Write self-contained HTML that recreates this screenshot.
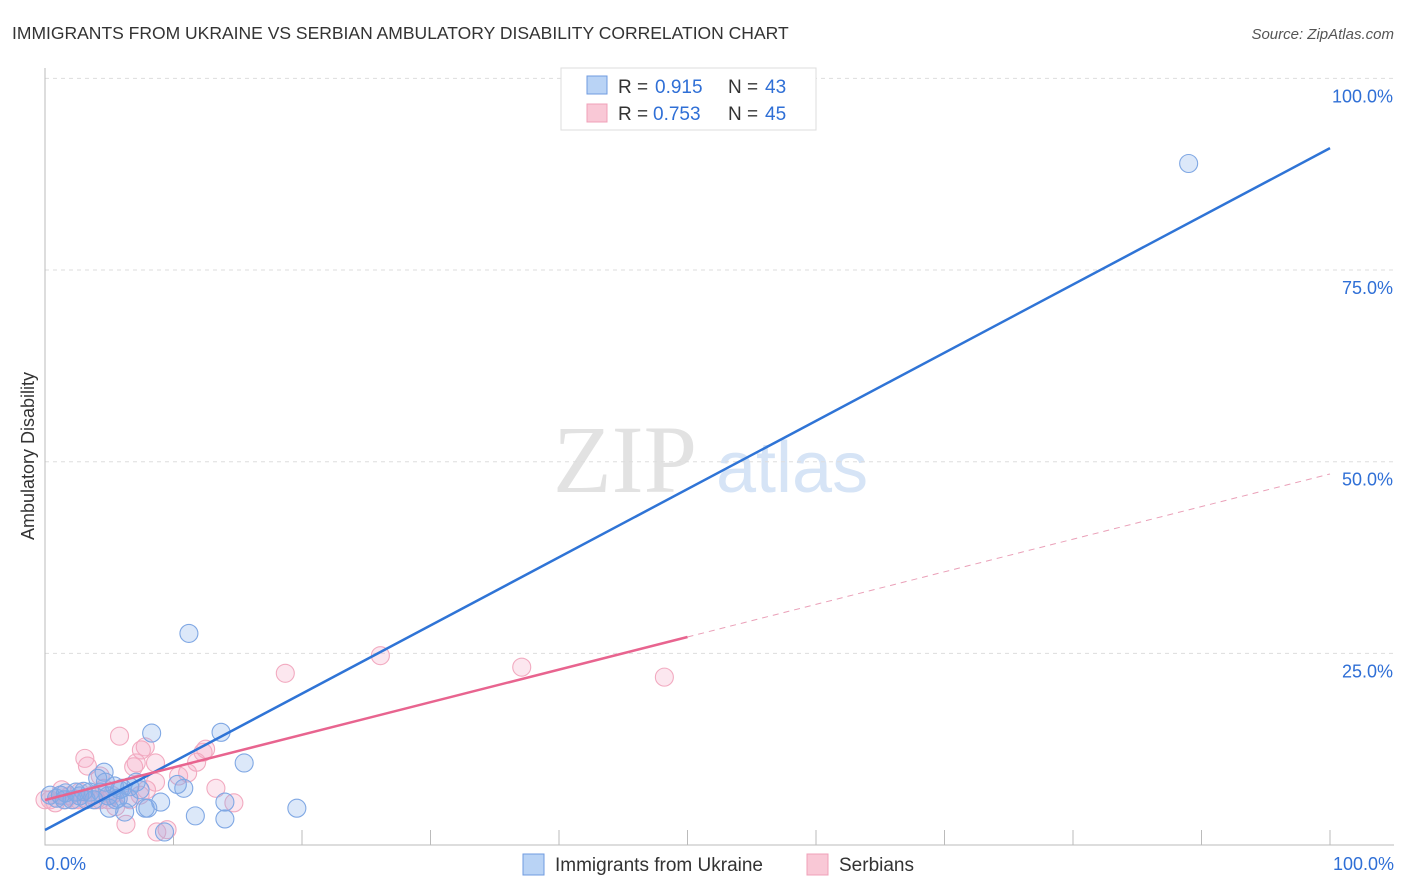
<!DOCTYPE html>
<html><head><meta charset="utf-8"><style>
body{margin:0;background:#fff;font-family:"Liberation Sans",sans-serif}
svg{display:block}
</style></head><body>
<svg id="c" width="1406" height="892">
<text x="12" y="39" font-size="17.5" fill="#333">IMMIGRANTS FROM UKRAINE VS SERBIAN AMBULATORY DISABILITY CORRELATION CHART</text>
<text x="1394" y="39" font-size="15" fill="#555" font-style="italic" text-anchor="end">Source: ZipAtlas.com</text>
<text x="553" y="492" font-size="96" fill="#e2e2e2" font-family="Liberation Serif">ZIP</text>
<text x="716" y="492" font-size="72" fill="#d6e4f6">atlas</text>
<text x="34" y="456" font-size="18" fill="#333" text-anchor="middle" transform="rotate(-90 34 456)">Ambulatory Disability</text>
<g id="grid"></g><g id="pts"></g><g id="lines"></g>
<g>
<rect x="561" y="68" width="255" height="62" fill="#fff" stroke="#ddd"/>
<rect x="587" y="76" width="20" height="18" fill="#b9d3f5" stroke="#6f9be0"/>
<text x="618" y="93" font-size="19" fill="#333">R =</text>
<text x="655" y="93" font-size="19" fill="#2f6fd6">0.915</text>
<text x="728" y="93" font-size="19" fill="#333">N =</text>
<text x="765" y="93" font-size="19" fill="#2f6fd6">43</text>
<rect x="587" y="104" width="20" height="18" fill="#f9c8d6" stroke="#f0a0b8"/>
<text x="618" y="120" font-size="19" fill="#333">R =</text>
<text x="653" y="120" font-size="19" fill="#2f6fd6">0.753</text>
<text x="728" y="120" font-size="19" fill="#333">N =</text>
<text x="765" y="120" font-size="19" fill="#2f6fd6">45</text>
</g>
<g>
<rect x="523" y="854" width="21" height="21" fill="#b9d3f5" stroke="#6f9be0"/>
<text x="555" y="871" font-size="19" fill="#333">Immigrants from Ukraine</text>
<rect x="807" y="854" width="21" height="21" fill="#f9c8d6" stroke="#f0a0b8"/>
<text x="839" y="871" font-size="19" fill="#333">Serbians</text>
</g>
<text x="45" y="870" font-size="18" fill="#2f6fd6">0.0%</text>
<text x="1394" y="870" font-size="18" fill="#2f6fd6" text-anchor="end">100.0%</text>
</svg>
<script>
const yTicks=[25,50,75,100];
const yTickLabels=["25.0%","50.0%","75.0%","100.0%"];
const ukrX=[89,11.2,8.3,13.7,15.5,19.6,14,11.7,14,10.8,10.3,9,7.8,8,6.5,6,6.2,5.5,5,4.6,4.1,7.1,5.8,3.2,2.1,0.9,0.4,1.2,1.6,2.7,3.5,4.3,4.9,5.4,1.5,2.4,3.8,4.7,5.7,6.6,9.3,7.4,3.0];
const ukrY=[88.9,27.6,14.6,14.7,10.7,4.8,3.4,3.8,5.6,7.4,7.9,5.6,4.8,4.8,6.1,7.4,4.3,5.9,4.8,9.5,8.7,8.2,7.2,5.9,5.9,6.1,6.5,6.5,6.8,6.4,6.9,6.9,6.4,7.7,5.9,6.9,5.9,8.2,6.1,7.6,1.7,7.2,7.0];
const serX=[48.2,37.1,26.1,18.7,5.8,7.8,7.5,3.1,3.3,8.6,7.1,6.9,12.5,12.3,11.8,11.1,10.4,8.6,4.3,13.3,14.7,5.5,6.3,8.7,9.5,5.2,7.4,3.7,1.2,0.4,0.8,1.9,2.7,1.6,2.3,4.6,4.0,3.2,4.9,0,1.3,2.6,4.3,6.6,7.9];
const serY=[21.9,23.2,24.7,22.4,14.2,12.8,12.4,11.3,10.3,10.7,10.7,10.2,12.5,12.1,10.8,9.4,9.0,8.2,9.0,7.4,5.5,5.0,2.7,1.7,2.0,6.5,6.5,6.5,6.5,5.9,5.5,6.4,6.9,5.9,5.9,7.4,5.9,6.1,5.9,5.9,7.2,5.9,5.9,5.9,7.2];
const ukrLine=[1.96,90.9];
const serLine=[5.87,48.4];
const serSolidEnd=50;
const NS="http://www.w3.org/2000/svg";
const X=v=>45+v*12.85, Y=v=>845-v*7.666;
function mk(t,a,p){const e=document.createElementNS(NS,t);for(const k in a)e.setAttribute(k,a[k]);p.appendChild(e);return e;}
const grid=document.getElementById('grid');
yTicks.forEach((t,i)=>{
 const l=mk('line',{x1:45,x2:1394,y1:Y(t),y2:Y(t),stroke:'#ddd','stroke-dasharray':'4,4'},grid);
 
 
 const tx=mk('text',{x:1393,y:Y(t)+24,'font-size':18,fill:'#2f6fd6','text-anchor':'end'},grid);
 tx.textContent=yTickLabels[i];
 
 
});
const ax=mk('path',{d:'M45 68V845H1394',fill:'none',stroke:'#bbb'},grid);


for(let i=1;i<=10;i++){const tk=mk('line',{x1:X(i*10),x2:X(i*10),y1:830,y2:845,stroke:'#bbb'},grid);
 
 }
const pts=document.getElementById('pts');
serX.forEach((x,i)=>{const c=mk('circle',{cx:X(x),cy:Y(serY[i]),r:9,fill:'rgba(244,170,196,0.28)',stroke:'#f2aac0','stroke-width':1.1},pts);
 
 });
ukrX.forEach((x,i)=>{const c=mk('circle',{cx:X(x),cy:Y(ukrY[i]),r:9,fill:'rgba(130,172,232,0.28)',stroke:'#80a8e4','stroke-width':1.1},pts);
 
 });
const ln=document.getElementById('lines');
const sy=x=>serLine[0]+(serLine[1]-serLine[0])*x/100;
const a=mk('line',{x1:X(0),y1:Y(ukrLine[0]),x2:X(100),y2:Y(ukrLine[1]),stroke:'#2f74d6','stroke-width':2.5},ln);


const b=mk('line',{x1:X(0),y1:Y(sy(0)),x2:X(serSolidEnd),y2:Y(sy(serSolidEnd)),stroke:'#e8648f','stroke-width':2.5},ln);


const d=mk('line',{x1:X(serSolidEnd),y1:Y(sy(serSolidEnd)),x2:X(100),y2:Y(sy(100)),stroke:'#eaa0b8','stroke-width':1,'stroke-dasharray':'6,5'},ln);


</script>
</body></html>
